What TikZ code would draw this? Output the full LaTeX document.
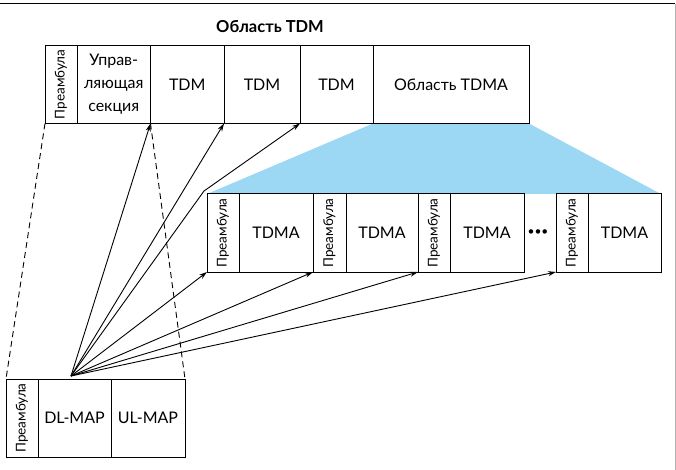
\documentclass[tikz,border=0pt]{standalone}
\usepackage{fontspec}
\setmainfont{Lato}
\usetikzlibrary{positioning,arrows.meta,backgrounds}
\definecolor{zoneblue}{RGB}{156,216,244}

\begin{document}
\begin{tikzpicture}[
x=1pt, y=-1pt,
cell/.style={draw=black, line width=1pt, minimum height=78pt, inner sep=0pt, outer sep=0pt, font=\fontsize{16}{23}\selectfont},
preamble/.style={cell, minimum width=32pt, font=\fontsize{13.5}{15}\selectfont},
link/.style={->, >={Stealth[length=8pt,width=5pt]}, line width=0.9pt},
dashline/.style={line width=0.9pt, dash pattern=on 6pt off 4pt}
]
    \useasboundingbox (0,0) rectangle (676,470);
    %Frame
    \draw[line width=1pt] (0,4) -- (675,4);
    \draw[black!30, line width=1pt] (675,4) -- (675,470);

    %Title
    \node[font=\bfseries\fontsize{16.5}{19}\selectfont] (title) at (270,27) {Область TDM};

    %Top row
    \node[preamble, anchor=north west] 
        (pre)   at (45,45.5)    {\rotatebox{90}{Преамбула}};
    \node[cell, minimum width=73.5pt, align=center] 
        (ctrl)  [right=0pt of pre]  {Управ-\\ляющая\\секция};
    \node[cell, minimum width=73.5pt] 
        (tdm1)  [right=0pt of ctrl] {TDM};
    \node[cell, minimum width=76pt] 
        (tdm2)  [right=0pt of tdm1] {TDM};
    \node[cell, minimum width=73pt] 
        (tdm3)  [right=0pt of tdm2] {TDM};
    \node[cell, minimum width=156pt] 
        (zone)  [right=0pt of tdm3] {Область TDMA};

    %TDMA row
    \node[preamble, anchor=north west] 
        (pA)    at (207,194)    {\rotatebox{90}{Преамбула}};
    \node[cell, minimum width=74pt] 
        (tA)    [right=0pt of pA]   {TDMA};
    \node[preamble, minimum width=33pt] 
        (pB)    [right=0pt of tA]   {\rotatebox{90}{Преамбула}};
    \node[cell, minimum width=72pt] 
        (tB)    [right=0pt of pB]   {TDMA};
    \node[preamble] 
        (pC)    [right=0pt of tB]   {\rotatebox{90}{Преамбула}};
    \node[cell, minimum width=74pt] 
        (tC)    [right=0pt of pC]   {TDMA};
    \node[font=\fontsize{12}{14}\selectfont] 
        (dots)  at (538,233)    {•••};
    \node[preamble, anchor=north west] 
        (pD)    at (556,194)    {\rotatebox{90}{Преамбула}};
    \node[cell, minimum width=73pt] 
        (tD)    [right=0pt of pD]   {TDMA};

    %Map row
    \node[preamble, anchor=north west] 
        (bpre)  at (6,379)      {\rotatebox{90}{Преамбула}};
    \node[cell, minimum width=73pt] 
        (dl)    [right=0pt of bpre] {DL-MAP};
    \node[cell, minimum width=74pt] 
        (ul)    [right=0pt of dl]   {UL-MAP};

    %Zoom area
    \begin{scope}[on background layer]
        \fill[zoneblue] (zone.south west) -- (zone.south east) 
            -- (tD.north east) -- (pA.north west) -- cycle;
    \end{scope}

    %Lines
    \coordinate (src)  at (71,376);
    \coordinate (bend) at (204,191);
    \draw[dashline] (pre.south west) -- (bpre.north west);
    \draw[dashline] (ctrl.south east) -- (ul.north east);
    \draw[link] (src) -- (ctrl.south east);
    \draw[link] (src) -- (tdm1.south east);
    \draw[link] (src) -- (bend) -- (tdm2.south east);
    \foreach \t in {pA,pB,pC,pD}
        \draw[link] (src) -- (\t.south west);
\end{tikzpicture}
\end{document}
